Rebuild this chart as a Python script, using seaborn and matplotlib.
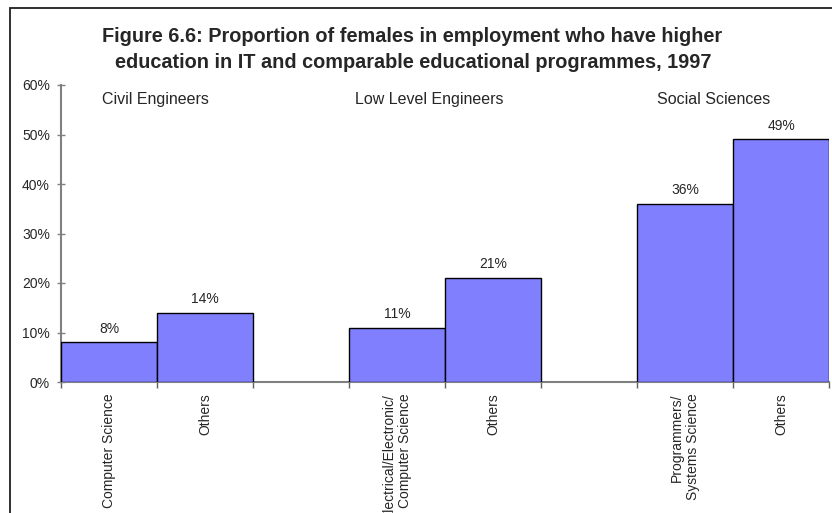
import matplotlib
matplotlib.use("Agg")
import matplotlib.pyplot as plt
from matplotlib.patches import Rectangle
import seaborn as sns
import pandas as pd

# Data: proportion of females (%) by education group
groups = ["Civil Engineers", "Low Level Engineers", "Social Sciences"]
programmes = [
    "Computer Science", "Others",
    "Electrical/Electronic/\nComputer Science", "Others",
    "Programmers/\nSystems Science", "Others",
]
shares = [8, 14, 11, 21, 36, 49]
y_ticks = [0, 10, 20, 30, 40, 50, 60]
title_lines = [
    "Figure 6.6: Proportion of females in employment who have higher",
    "education in IT and comparable educational programmes, 1997",
]

sns.set_style("white")
plt.rcParams["font.family"] = ["Liberation Sans", "DejaVu Sans"]

# two bars per group, one empty slot between groups
positions = [g * 3 + j for g in range(len(groups)) for j in range(2)]
df = pd.DataFrame({"pos": positions, "share": shares, "programme": programmes})

W, H = 832, 513
fig = plt.figure(figsize=(W / 100, H / 100), dpi=100)
ax = fig.add_axes([61 / W, 1 - 382 / H, (829 - 61) / W, (382 - 85) / H])

sns.barplot(data=df, x="pos", y="share", native_scale=True, width=1.0,
            color="#8080FF", saturation=1, edgecolor="black", linewidth=1.0,
            ax=ax, zorder=3)

ax.set_xlim(-0.5, 7.5)
ax.set_ylim(0, 60)
ax.set_xlabel("")
ax.set_ylabel("")

# y axis
ax.set_yticks(y_ticks)
ax.set_yticklabels([f"{v}%" for v in y_ticks], fontsize=10)
ax.tick_params(axis="y", direction="inout", length=6, width=1, color="#808080",
               pad=5, left=True)

# x axis: labels at bar centres, tick marks at slot boundaries
ax.set_xticks(positions)
ax.set_xticklabels(programmes, rotation=90, fontsize=10, va="top", ha="center",
                   multialignment="right")
ax.tick_params(axis="x", which="major", length=0, pad=8)
ax.set_xticks([p - 0.5 for p in range(9)], minor=True)
ax.tick_params(axis="x", which="minor", direction="out", length=4, width=1,
               color="#606060", bottom=True)

for side in ("top", "right"):
    ax.spines[side].set_visible(False)
for side in ("left", "bottom"):
    ax.spines[side].set_color("#808080")
    ax.spines[side].set_linewidth(1.5)

# value labels
for p, v in zip(positions, shares):
    ax.annotate(f"{v}%", (p, v), xytext=(0, 10), textcoords="offset points",
                ha="center", va="center", fontsize=10)

# group headings
group_x = [-0.073, 2.56, 5.71]
for gx, name in zip(group_x, groups):
    ax.text(gx, 57.0, name, ha="left", va="center", fontsize=11.5)

# two-line bold title
for (tx, ty), line in zip([(102, 42), (115, 68)], title_lines):
    fig.text(tx / W, 1 - ty / H, line, ha="left", va="baseline",
             fontsize=14.3, fontweight="bold")

# frame around the chart
fig.patches.append(Rectangle((10 / W, -0.1), 2, 1 - 8 / H + 0.1,
                             transform=fig.transFigure, fill=False,
                             edgecolor="#202020", linewidth=1.3))

fig.savefig("out.png", dpi=100)
